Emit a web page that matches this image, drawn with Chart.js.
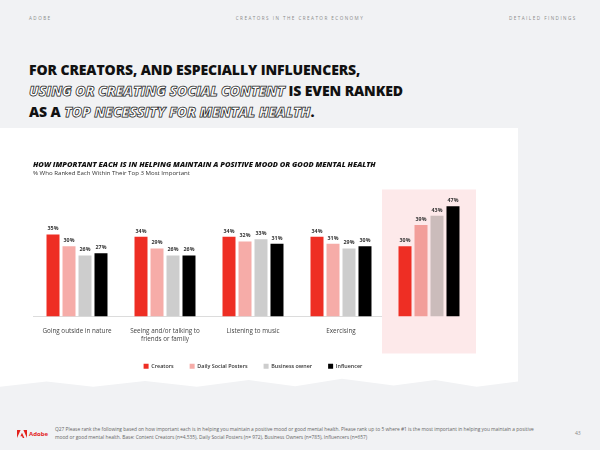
<!DOCTYPE html>
<html>
<head>
<meta charset="utf-8">
<script src="https://cdn.jsdelivr.net/npm/chart.js@4/dist/chart.umd.min.js"></script>
<style>
  html,body{margin:0;padding:0;}
  body{width:600px;height:450px;overflow:hidden;position:relative;background:#f1f2f4;font-family:"Open Sans",Lato,sans-serif;}
  .hdr{position:absolute;top:15px;font-size:4.6px;letter-spacing:1.45px;color:#8a8a8a;}
  .big{position:absolute;left:29px;top:59px;font-size:14px;font-weight:800;line-height:21px;color:#111;letter-spacing:-0.1px;}
  .ol{font-style:italic;color:#fff;-webkit-text-stroke:0.75px #222;}
  .panel{position:absolute;left:0;top:128px;width:518px;height:264px;background:#fff;
    clip-path:polygon(0 0,100% 0,100% 96%,92% 98%,84% 95.5%,76% 97.5%,66% 95%,57% 97.8%,48% 95.5%,38% 98%,28% 95.8%,18% 98%,9% 96%,0 98%);}
  #wrap{position:absolute;left:0;top:128px;width:520px;height:257px;}
  .foot{position:absolute;left:55px;top:425px;font-size:4.85px;line-height:8px;color:#666;white-space:nowrap;}
  .logo{position:absolute;left:17px;top:430px;font-size:6px;font-weight:700;color:#e3221b;display:flex;align-items:center;gap:2px;}
  .pg{position:absolute;left:575px;top:430px;font-size:5px;color:#888;}
</style>
</head>
<body>
<div class="hdr" style="left:29px;">ADOBE</div>
<div class="hdr" style="left:0;width:600px;text-align:center;">CREATORS IN THE CREATOR ECONOMY</div>
<div class="hdr" style="left:509px;">DETAILED FINDINGS</div>
<div class="big">FOR CREATORS, AND ESPECIALLY INFLUENCERS,<br><span class="ol">USING OR CREATING SOCIAL CONTENT</span> IS EVEN RANKED<br>AS A <span class="ol">TOP NECESSITY FOR MENTAL HEALTH</span>.</div>
<div class="panel"></div>
<div id="wrap"><canvas id="c"></canvas></div>
<div class="logo"><svg width="10" height="8" viewBox="0 0 10 8"><polygon points="0,0 3.6,0 0,8" fill="#e3221b"/><polygon points="6.4,0 10,0 10,8" fill="#e3221b"/><polygon points="5,2.8 7.4,8 5.8,8 5.1,6.3 3.4,6.3" fill="#e3221b"/></svg><span>Adobe</span></div>
<div class="foot">Q27 Please rank the following based on how important each is in helping you maintain a positive mood or good mental health. Please rank up to 5 where #1 is the most important in helping you maintain a positive<br>mood or good mental health. Base: Content Creators (n=4,535), Daily Social Posters (n= 972), Business Owners (n=785), Influencers (n=657)</div>
<div class="pg">43</div>
<script>
const categories = [
  ["Going outside in nature"],
  ["Seeing and/or talking to", "friends or family"],
  ["Listening to music"],
  ["Exercising"],
  ["Using social or creating", "social content"]
];
const seriesNames = ["Creators", "Daily Social Posters", "Business owner", "Influencer"];
const creators = [35, 34, 34, 34, 30];
const dailySocialPosters = [30, 29, 32, 31, 39];
const businessOwner = [26, 26, 33, 29, 43];
const influencer = [27, 26, 31, 30, 47];

const RED = "#ee2e24", PINK = "#f6aca8", GRAY = "#cdcdcd", BLACK = "#000000";
const HILITE_INDEX = 4;

function colorsFor(base, hl) {
  return categories.map((_, i) => i === HILITE_INDEX ? hl : base);
}

const highlightPlugin = {
  id: "highlight",
  beforeDatasetsDraw(chart) {
    const {ctx, scales} = chart;
    const cx = scales.x.getPixelForValue(HILITE_INDEX);
    const base = scales.y.getPixelForValue(0);
    ctx.save();
    ctx.fillStyle = "#fde9ea";
    ctx.fillRect(cx - 47, base - 127, 94, 164);
    ctx.restore();
  }
};

const valueLabels = {
  id: "valueLabels",
  afterDatasetsDraw(chart) {
    const {ctx} = chart;
    ctx.save();
    ctx.font = "bold 5.3px 'Open Sans', sans-serif";
    ctx.fillStyle = "#333";
    ctx.textAlign = "center";
    ctx.textBaseline = "bottom";
    chart.data.datasets.forEach((ds, di) => {
      chart.getDatasetMeta(di).data.forEach((el, i) => {
        ctx.fillText(ds.data[i] + "%", el.x, el.y - 3);
      });
    });
    ctx.restore();
  }
};

new Chart(document.getElementById("c"), {
  type: "bar",
  data: {
    labels: categories,
    datasets: [
      {label: seriesNames[0], data: creators, backgroundColor: colorsFor(RED, RED)},
      {label: seriesNames[1], data: dailySocialPosters, backgroundColor: colorsFor(PINK, "#f29e9a")},
      {label: seriesNames[2], data: businessOwner, backgroundColor: colorsFor(GRAY, "#cbbcbb")},
      {label: seriesNames[3], data: influencer, backgroundColor: colorsFor(BLACK, BLACK)}
    ]
  },
  options: {
    responsive: true,
    maintainAspectRatio: false,
    animation: false,
    devicePixelRatio: 1,
    categoryPercentage: 0.727,
    barPercentage: 0.8125,
    layout: {padding: {left: 33, right: 47, top: 32, bottom: 6}},
    scales: {
      x: {
        grid: {display: false, drawTicks: false},
        border: {display: true, color: "#dcdcdc", width: 1},
        ticks: {color: "#444", font: {size: 6.3, family: "'Open Sans', sans-serif"}, padding: 11, maxRotation: 0, autoSkip: false},
        afterFit(scale) { scale.height -= 6; }
      },
      y: {display: false, min: 0, max: 50}
    },
    plugins: {
      title: {
        display: true,
        text: "HOW IMPORTANT EACH IS IN HELPING MAINTAIN A POSITIVE MOOD OR GOOD MENTAL HEALTH",
        align: "start",
        color: "#111",
        font: {size: 7.5, weight: "800", style: "italic", family: "'Open Sans', sans-serif"},
        padding: {top: 0, bottom: 1}
      },
      subtitle: {
        display: true,
        text: "% Who Ranked Each Within Their Top 3 Most Important",
        align: "start",
        color: "#333",
        font: {size: 6.1, family: "'Open Sans', sans-serif"},
        padding: {top: 0, bottom: 22}
      },
      legend: {
        position: "bottom",
        labels: {boxWidth: 5, boxHeight: 5, padding: 16, color: "#333", font: {size: 5.4, weight: "600", family: "'Open Sans', sans-serif"}}
      },
      tooltip: {enabled: false}
    }
  },
  plugins: [highlightPlugin, valueLabels]
});
</script>
</body>
</html>
